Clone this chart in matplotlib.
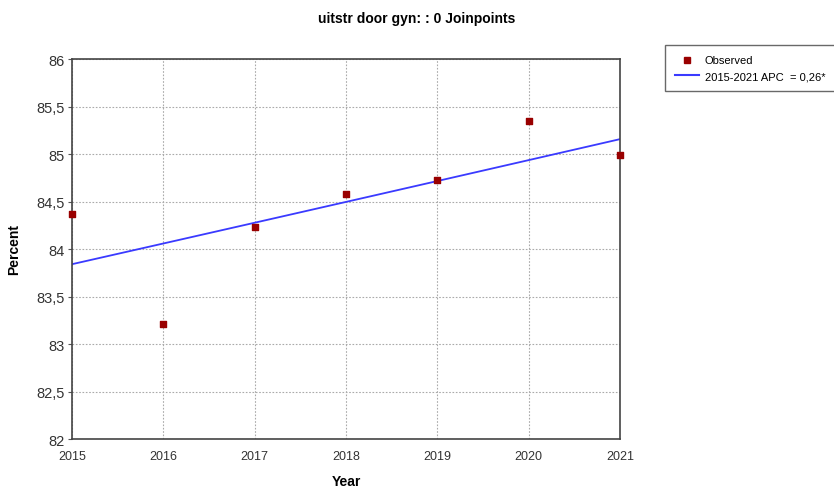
import numpy as np
import matplotlib
matplotlib.use("Agg")
import matplotlib.pyplot as plt
from matplotlib.lines import Line2D

years = [2015, 2016, 2017, 2018, 2019, 2020, 2021]
observed = [84.37, 83.21, 84.23, 84.58, 84.73, 85.35, 84.99]
fit_start = 83.84
apc = 0.26
y_ticks = [82, 82.5, 83, 83.5, 84, 84.5, 85, 85.5, 86]
y_tick_labels = ["82", "82,5", "83", "83,5", "84", "84,5", "85", "85,5", "86"]

plt.rcParams['font.family'] = ['Liberation Sans', 'DejaVu Sans']

fig = plt.figure(figsize=(8.34, 4.89), dpi=100)
ax = fig.add_axes([0.0863, 0.1002, 0.6571, 0.7771])

# log-linear trend from the annual percent change
t = np.linspace(years[0], years[-1], 100)
fit = fit_start * (1 + apc / 100) ** (t - years[0])
ax.plot(t, fit, color="#3a3aff", lw=1.3, zorder=2)
ax.scatter(years, observed, marker="s", s=22, color="#990000", zorder=3, clip_on=False)

ax.set_xlim(years[0], years[-1])
ax.set_ylim(82, 86)
ax.set_xticks(years)
ax.set_yticks(y_ticks)
ax.set_yticklabels(y_tick_labels)
ax.tick_params(axis="x", length=0, pad=8, labelsize=9, labelcolor="#333333")
ax.tick_params(axis="y", length=3, pad=2, labelsize=10.5, labelcolor="#333333", color="#555555")
ax.grid(True, color="#aaaaaa", linestyle=(0, (1.5, 1.5)), linewidth=0.8)
for s in ax.spines.values():
    s.set_color("#444444")
    s.set_linewidth(1.2)

fig.text(0.415, 0.012 - 0.012, "Year", fontsize=10, fontweight="bold", ha="center", va="bottom")
fig.text(0.017, 0.49, "Percent", fontsize=10, fontweight="bold", rotation=90,
         ha="center", va="center")
fig.suptitle("uitstr door gyn: : 0 Joinpoints", fontsize=10, fontweight="bold", y=0.975)

handles = [
    Line2D([], [], marker="s", linestyle="none", color="#990000", markersize=4),
    Line2D([], [], color="#3a3aff", lw=1.5),
]
leg = fig.legend(handles, ["Observed", "2015-2021 APC  = 0,26*"],
                 loc="upper left", bbox_to_anchor=(0.797, 0.905),
                 fontsize=8, frameon=True, fancybox=False, handlelength=2.2,
                 borderpad=0.9, labelspacing=0.5, handletextpad=0.5, borderaxespad=0)
leg.get_frame().set_edgecolor("#444444")
leg.get_frame().set_linewidth(1.0)

fig.savefig("out.png", dpi=100)
